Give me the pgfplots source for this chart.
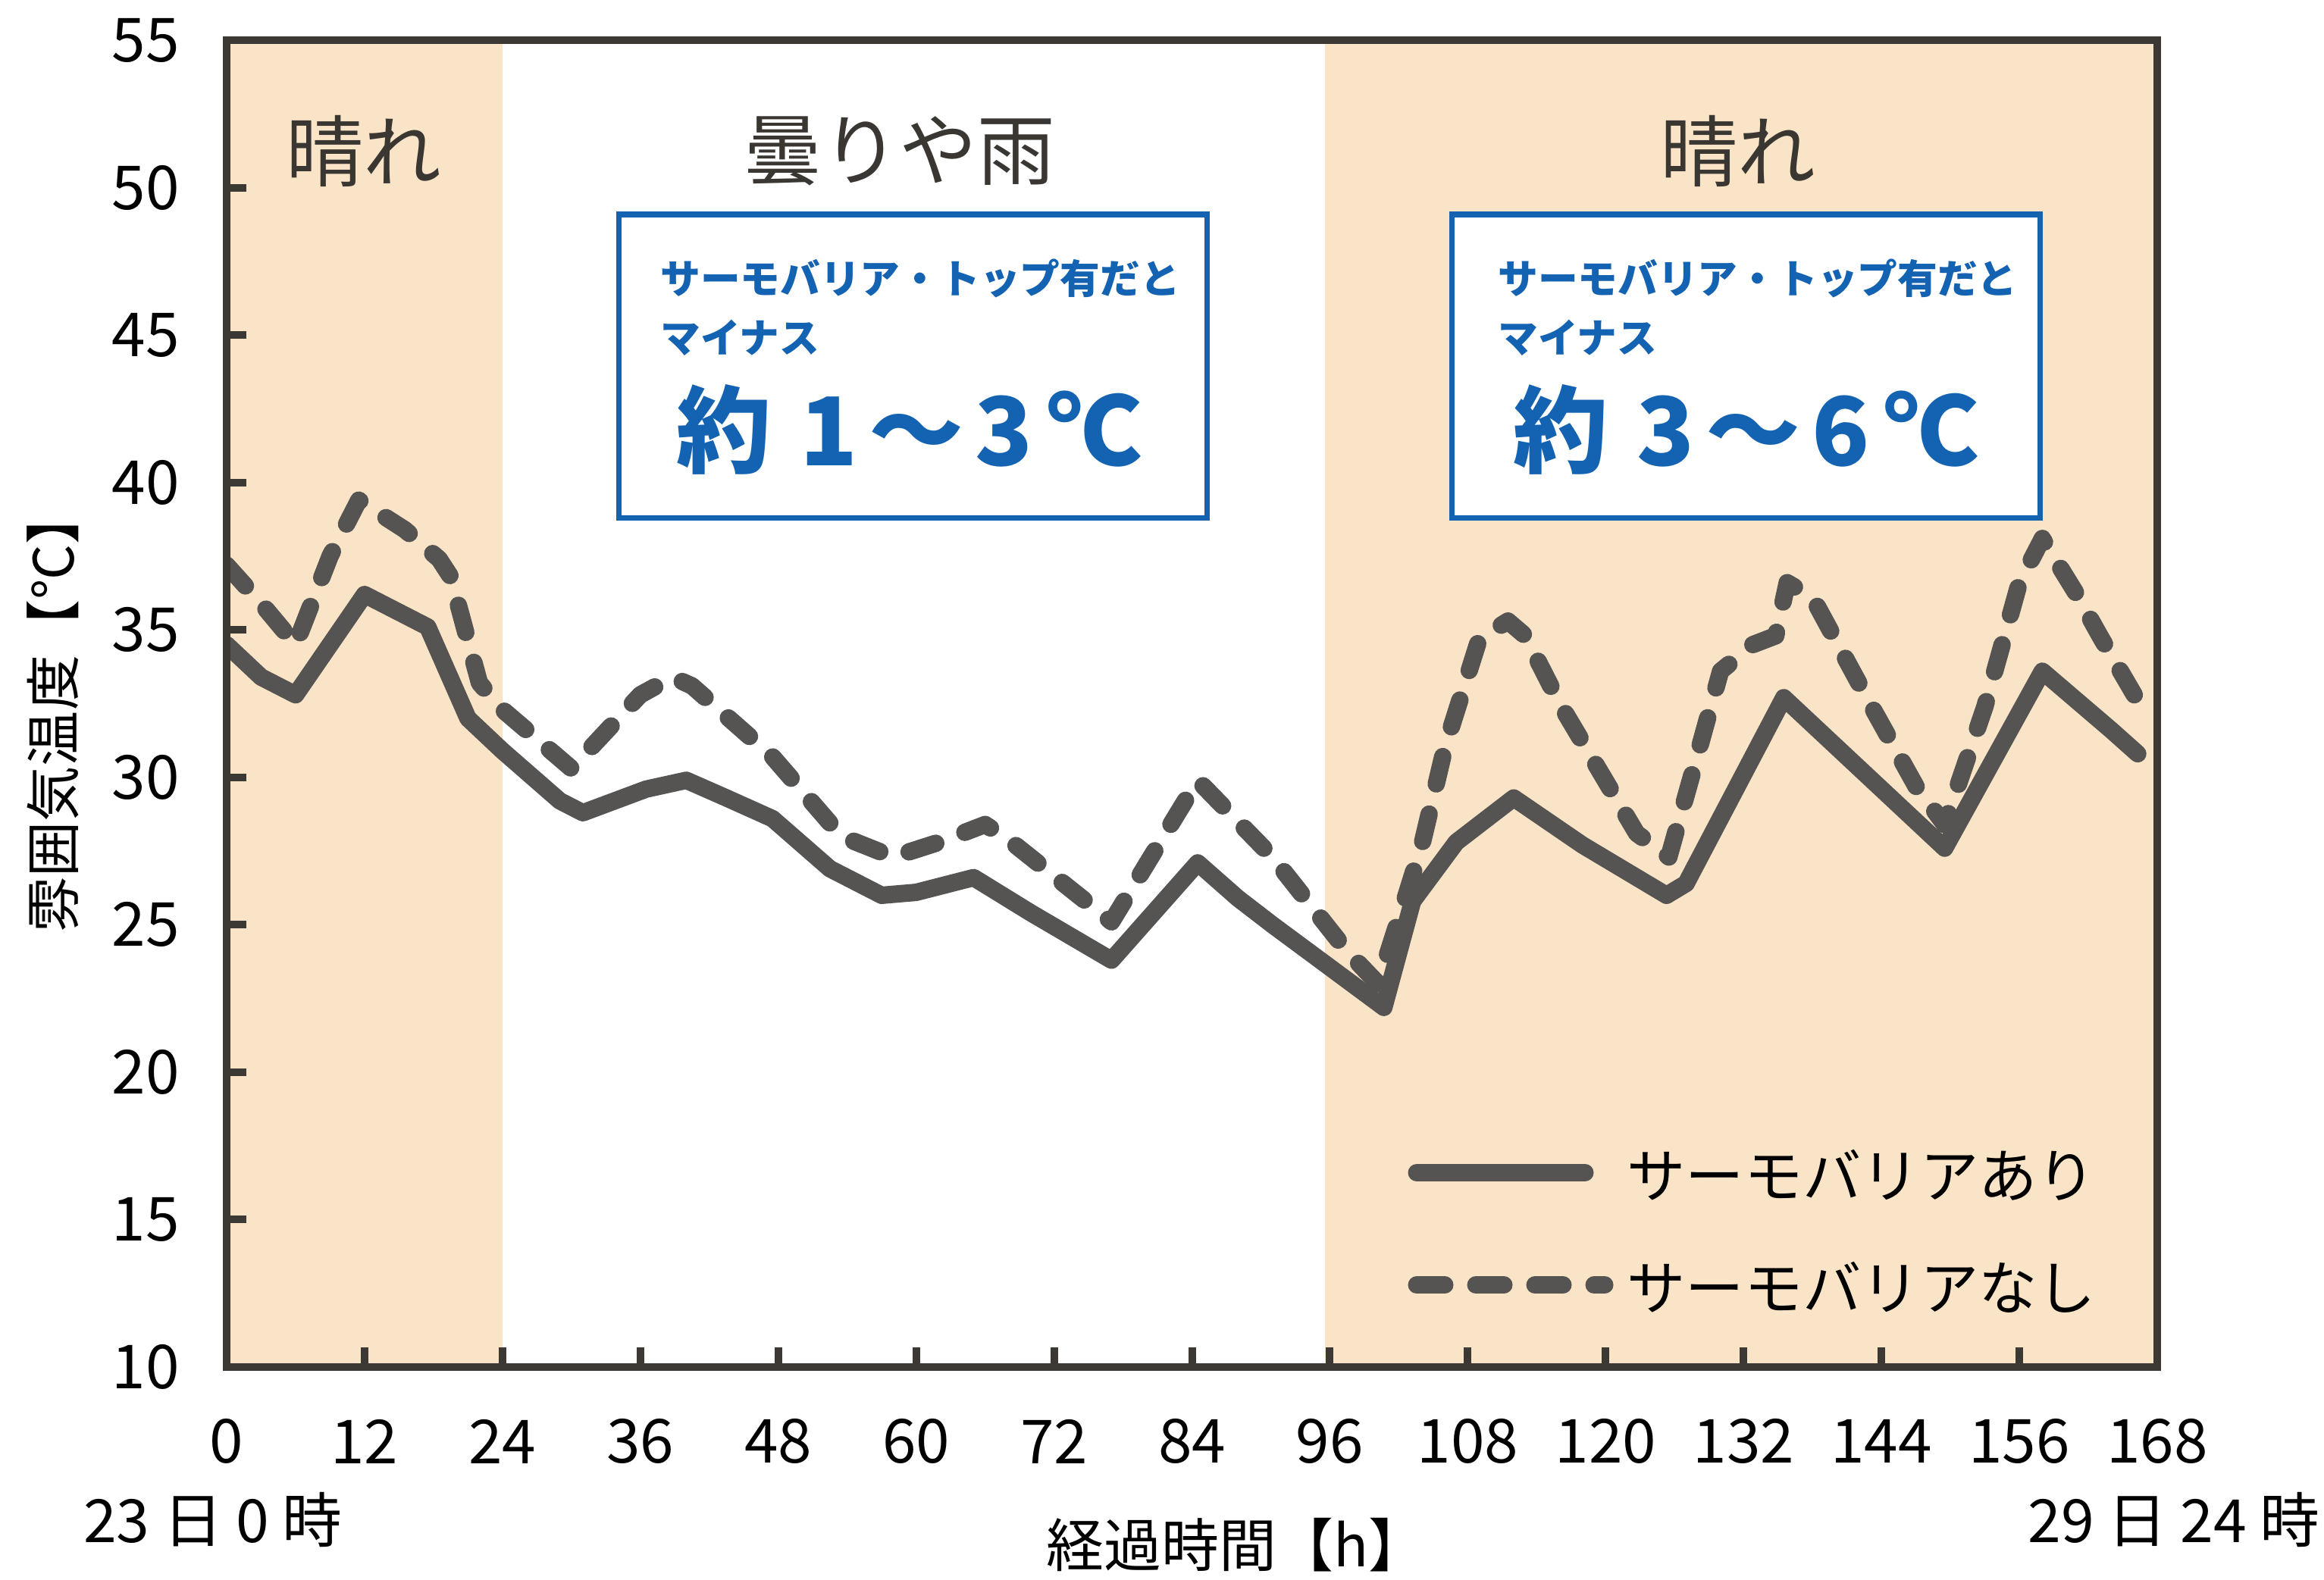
\documentclass[border=0pt]{standalone}
\usepackage{fontspec}
\setmainfont{Noto Sans CJK JP}
\usepackage{pgfplots}
\pgfplotsset{compat=1.18}

\definecolor{sunny}{RGB}{249,228,199}
\definecolor{linegray}{RGB}{85,84,82}
\definecolor{axisgray}{RGB}{60,56,51}
\definecolor{boxblue}{RGB}{20,98,178}
\definecolor{textgray}{RGB}{58,54,50}

\pgfplotsset{
    leg solid/.style={legend image code/.code={\draw[##1] (0.6mm,0.6mm) -- (11.7mm,0.6mm);}},
    leg dashed/.style={legend image code/.code={\draw[##1] (0.6mm,0.6mm) -- (13.0mm,0.6mm);}},
}

\begin{document}
\begin{tikzpicture}
% picture frame: 3066 x 2084 px at 0.05mm per px
\useasboundingbox (0,0) rectangle (153.3mm,-104.2mm);
\begin{axis}[
    at={(14.95mm,-90.2mm)}, anchor=south west,
    scale only axis, width=127.35mm, height=87.55mm,
    xmin=0, xmax=168, ymin=10, ymax=55,
    xtick={0,12,...,168}, ytick={10,15,...,55},
    xtick pos=bottom, ytick pos=left,
    tick align=inside,
    major tick length=1.3mm,
    every tick/.style={axisgray, line width=0.5mm},
    axis line style={axisgray, line width=0.5mm},
    axis on top,
    /pgf/number format/assume math mode=true,
    tick label style={font=\fontsize{11.4}{13}\selectfont},
    xticklabel style={anchor=center, yshift=-4.9mm},
    yticklabel style={anchor=east, inner sep=0pt, xshift=-3.05mm},
    ylabel={雰囲気温度【℃】},
    ylabel style={at={(axis description cs:-0.0899,0.4946)}, anchor=center,
        font=\fontsize{10.4}{12}\selectfont},
    xlabel={経過時間【h】},
    xlabel style={at={(axis description cs:0.523,-0.1342)}, anchor=center,
        font=\fontsize{10.8}{12}\selectfont},
    legend style={at={(axis cs:102.8,14.38)}, anchor=west, draw=none, fill=none,
        inner sep=0pt, outer sep=0pt, row sep=3.9mm,
        nodes={inner sep=0pt, text height=0.8em, text depth=0.2em,
            font=\fontsize{11}{13}\selectfont},
        /tikz/every odd column/.append style={column sep=0.9mm}},
    legend cell align=left,
]

% sunny periods
\addplot[draw=none, fill=sunny, forget plot] coordinates {(0,10) (24,10) (24,55) (0,55)} -- cycle;
\addplot[draw=none, fill=sunny, forget plot] coordinates {(95.6,10) (168,10) (168,55) (95.6,55)} -- cycle;

% with thermo barrier
\addplot[linegray, line width=1.15mm, line join=round, line cap=round, leg solid]
coordinates {
    (0,34.5) (3,33.4) (6,32.8) (12,36.2) (17.5,35.1) (21,32.0) (24,30.9)
    (29,29.2) (31,28.8) (36.5,29.6) (40,29.9) (43.5,29.3) (47.5,28.6)
    (52.5,26.9) (57,26.0) (60,26.1) (65,26.6) (70,25.4) (77,23.8)
    (84.5,27.1) (88,25.9) (91,25.0) (100.7,22.2) (103.2,25.8) (107,27.8)
    (112,29.3) (118,27.7) (125.3,26.0) (127,26.4) (135.5,32.7) (149.5,27.6)
    (158,33.6) (164,31.6) (166.3,30.8)
};
\addlegendentry{サーモバリアあり}

% without thermo barrier
\addplot[linegray, line width=1.15mm, line join=round, line cap=round,
    dash pattern=on 1.85mm off 2.05mm, leg dashed]
coordinates {
    (0,37.2) (3,35.9) (6,34.5) (9,37.5) (11.5,39.4) (15.5,38.4) (18.5,37.4)
    (19.5,36.8) (22,33.2) (24,32.3) (30,30.3) (36,32.8) (38.8,33.4)
    (40.5,33.1) (47.5,30.7) (53.5,28.0) (58,27.3) (62,27.8) (66,28.4)
    (68,27.9) (77,25.1) (84.5,29.9) (87,28.9) (91,27.3) (97.5,24.1)
    (100.2,23.0) (102,25.2) (104,27.7) (106,31.0) (109,34.7) (111.5,35.3)
    (113,34.8) (116,32.5) (122.7,28.1) (125.5,27.3) (127.8,30.5) (130,33.6)
    (132.8,34.5) (134.8,34.8) (135.8,36.6) (138,36.1) (143,32.5) (147,29.7)
    (149.5,28.4) (153,32.4) (156,36.6) (158,38.1) (161,36.2) (163,34.8)
    (166,32.8)
};
\addlegendentry{サーモバリアなし}
\end{axis}

% annotations in picture pixels (origin top left)
\begin{scope}[x=0.05mm, y=-0.05mm]
\begin{scope}[font=\fontsize{14.6}{16}\selectfont, text=textgray]
\node at (480,199) {晴れ};
\node at (1187,199) {曇りや雨};
\node at (2293,199) {晴れ};
\end{scope}

\draw[boxblue, line width=1pt, fill=white] (817,283) rectangle (1593,684);
\draw[boxblue, line width=1pt, fill=white] (1916,283) rectangle (2692,684);

\begin{scope}[text=boxblue, font=\fontsize{7.5}{9}\selectfont\bfseries]
\node[anchor=west, inner sep=0pt] at (870,367) {サーモバリア・トップ有だと};
\node[anchor=west, inner sep=0pt] at (870,446) {マイナス};
\node[anchor=west, inner sep=0pt] at (1975,367) {サーモバリア・トップ有だと};
\node[anchor=west, inner sep=0pt] at (1975,446) {マイナス};
\end{scope}
\begin{scope}[text=boxblue, font=\fontsize{17.8}{20}\selectfont\bfseries]
\node[inner sep=0pt] at (1200,567) {約\hspace{0.3em}1\hspace{0.12em}～\hspace{0.12em}3\hspace{0.15em}℃};
\node[inner sep=0pt] at (2304,567) {約\hspace{0.3em}3\hspace{0.12em}～\hspace{0.12em}6\hspace{0.15em}℃};
\end{scope}

\begin{scope}[font=\fontsize{11.2}{13}\selectfont]
\node at (281,2006) {23 日 0 時};
\node at (2868,2006) {29 日 24 時};
\end{scope}
\end{scope}
\end{tikzpicture}
\end{document}
